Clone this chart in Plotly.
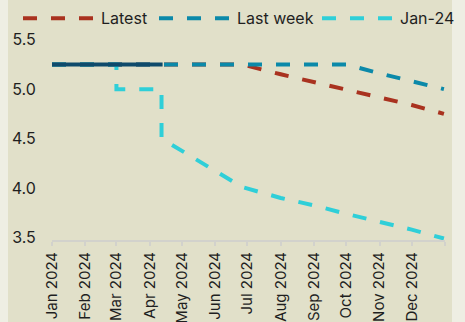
import plotly.graph_objects as go

# --- data -----------------------------------------------------------------
latest_dates = ["2024-01-01", "2024-06-26", "2024-08-01", "2024-09-01",
                "2024-10-01", "2024-11-01", "2024-12-01", "2024-12-31"]
latest_vals = [5.25, 5.25, 5.15, 5.07, 4.99, 4.92, 4.84, 4.75]

lastweek_dates = ["2024-01-01", "2024-10-01", "2024-11-01", "2024-12-01", "2024-12-31"]
lastweek_vals = [5.25, 5.25, 5.16, 5.08, 5.00]

jan24_dates = ["2024-01-01", "2024-03-01", "2024-03-01", "2024-04-12", "2024-04-12",
               "2024-06-26", "2024-08-01", "2024-09-01", "2024-10-01", "2024-11-01",
               "2024-12-01", "2024-12-31"]
jan24_vals = [5.25, 5.25, 5.00, 5.00, 4.50, 4.01, 3.90, 3.825, 3.74, 3.66, 3.58, 3.49]

actual_dates = ["2024-01-01", "2024-04-13"]
actual_vals = [5.25, 5.25]

month_ticks = ["2024-01-01", "2024-02-01", "2024-03-01", "2024-04-01", "2024-05-01",
               "2024-06-01", "2024-07-01", "2024-08-01", "2024-09-01", "2024-10-01",
               "2024-11-01", "2024-12-01", "2025-01-01"]
month_labels = ["Jan 2024", "Feb 2024", "Mar 2024", "Apr 2024", "May 2024", "Jun 2024",
                "Jul 2024", "Aug 2024", "Sep 2024", "Oct 2024", "Nov 2024", "Dec 2024", ""]

y_ticks = [3.5, 4.0, 4.5, 5.0, 5.5]
y_labels = ["3.5", "4.0", "4.5", "5.0", "5.5"]

series_names = ["Latest", "Last week", "Jan-24"]

# --- styling --------------------------------------------------------------
RED = "#a9321f"
TEAL = "#0b89a9"
CYAN = "#2fcfd8"
NAVY = "#0f4a6b"
PANEL = "#e1e0c9"
OUTER = "#eeeee3"
AXIS = "#d2d2cc"
FONT = "Inter"
DASH = "14px,14px"

W, H = 465, 322
ML, MR, MT, MB = 52, 20, 38, 82


def px_x(p):
    return (p - ML) / (W - ML - MR)


def px_y(p):
    return (H - MB - p) / (H - MT - MB)


fig = go.Figure()
fig.add_trace(go.Scatter(x=latest_dates, y=latest_vals, mode="lines",
                         line=dict(color=RED, width=4, dash=DASH),
                         name=series_names[0], showlegend=False))
fig.add_trace(go.Scatter(x=jan24_dates, y=jan24_vals, mode="lines",
                         line=dict(color=CYAN, width=4, dash=DASH),
                         name=series_names[2], showlegend=False))
fig.add_trace(go.Scatter(x=lastweek_dates, y=lastweek_vals, mode="lines",
                         line=dict(color=TEAL, width=4, dash=DASH),
                         name=series_names[1], showlegend=False))
fig.add_trace(go.Scatter(x=actual_dates, y=actual_vals, mode="lines",
                         line=dict(color=NAVY, width=4),
                         name="Actual", showlegend=False))

shapes = [
    # light outer strips either side of the panel
    dict(type="rect", xref="paper", yref="paper", layer="below",
         x0=px_x(-2), x1=px_x(8), y0=px_y(H + 5), y1=px_y(-5),
         fillcolor=OUTER, line=dict(width=0)),
    dict(type="rect", xref="paper", yref="paper", layer="below",
         x0=px_x(452), x1=px_x(W + 5), y0=px_y(H + 5), y1=px_y(-5),
         fillcolor=OUTER, line=dict(width=0)),
]
annotations = []

# legend drawn as dashed key lines with labels
legend_items = [(series_names[0], RED, 23, 99),
                (series_names[1], TEAL, 159, 235),
                (series_names[2], CYAN, 322, 398)]
for name, color, x0, tx in legend_items:
    shapes.append(dict(type="line", xref="paper", yref="paper",
                       x0=px_x(x0), x1=px_x(x0 + 70), y0=px_y(18.3), y1=px_y(18.3),
                       line=dict(color=color, width=4, dash=DASH)))
    annotations.append(dict(text=name, xref="paper", yref="paper",
                            x=px_x(tx), y=px_y(18.3), xanchor="left", yanchor="middle",
                            showarrow=False, font=dict(family=FONT, size=16, color="#1f1f1f")))

fig.update_layout(
    width=W, height=H,
    margin=dict(l=ML, r=MR, t=MT, b=MB, pad=0),
    paper_bgcolor=PANEL, plot_bgcolor=PANEL,
    font=dict(family=FONT, size=16, color="#1f1f1f"),
    showlegend=False,
    shapes=shapes, annotations=annotations,
    xaxis=dict(type="date", range=["2024-01-01", "2025-01-01"],
               tickmode="array", tickvals=month_ticks, ticktext=month_labels,
               tickangle=-90, ticks="outside", ticklen=4, tickwidth=1.5,
               tickcolor=AXIS, showline=True, linecolor=AXIS, linewidth=2,
               showgrid=False, zeroline=False, automargin=False,
               tickfont=dict(family=FONT, size=15, color="#1f1f1f")),
    yaxis=dict(range=[3.475, 5.517], tickmode="array", tickvals=y_ticks,
               ticktext=y_labels, ticks="outside", ticklen=12,
               tickcolor="rgba(0,0,0,0)", showline=False, showgrid=False,
               zeroline=False, automargin=False,
               tickfont=dict(family=FONT, size=16, color="#1f1f1f")),
)

fig.write_html("out.html")
